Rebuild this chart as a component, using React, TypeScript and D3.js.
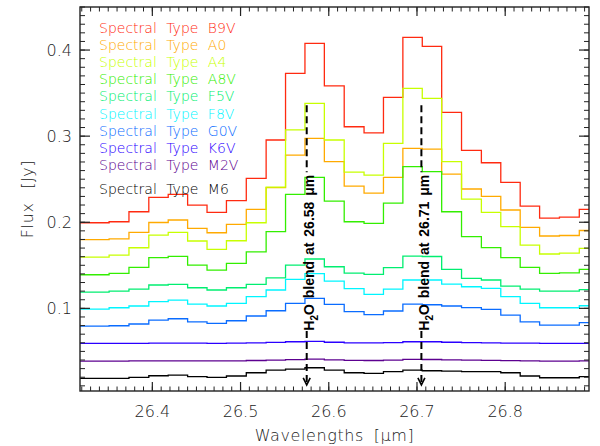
import React from 'react';
import * as d3 from 'd3';

// ---------- data ----------
const wavelengths = [
  26.318, 26.340, 26.362, 26.385, 26.407, 26.429, 26.451, 26.473, 26.495,
  26.518, 26.540, 26.562, 26.584, 26.606, 26.629, 26.651, 26.673, 26.695,
  26.717, 26.739, 26.762, 26.784, 26.806, 26.828, 26.850, 26.873, 26.895,
];

const spectralTypes = ['B9V', 'A0', 'A4', 'A8V', 'F5V', 'F8V', 'G0V', 'K6V', 'M2V', 'M6'];
const seriesColors = ['#ff2a10', '#ffaa00', '#c8ff00', '#33ee00', '#00ee70', '#00f5ff', '#0a6cff', '#2a00ff', '#5c0090', '#000000'];

const fluxB9V = [0.1994, 0.1994, 0.2006, 0.2122, 0.2289, 0.2324, 0.2200, 0.2115, 0.2250, 0.2510, 0.2955, 0.3729, 0.4078, 0.3585, 0.3109, 0.3039, 0.3451, 0.4148, 0.4043, 0.3276, 0.2835, 0.2691, 0.2463, 0.2188, 0.2049, 0.2060, 0.2150];
const fluxA0 = [0.1799, 0.1799, 0.1808, 0.1883, 0.1997, 0.2026, 0.1929, 0.1878, 0.1976, 0.2150, 0.2403, 0.2780, 0.2974, 0.2703, 0.2420, 0.2339, 0.2521, 0.2858, 0.2850, 0.2560, 0.2386, 0.2301, 0.2142, 0.1941, 0.1840, 0.1846, 0.1904];
const fluxA4 = [0.1596, 0.1596, 0.1619, 0.1704, 0.1851, 0.1883, 0.1782, 0.1685, 0.1785, 0.1994, 0.2409, 0.3074, 0.3381, 0.2955, 0.2583, 0.2548, 0.2916, 0.3555, 0.3439, 0.2703, 0.2269, 0.2115, 0.1948, 0.1735, 0.1631, 0.1642, 0.1697];
const fluxA8V = [0.1390, 0.1390, 0.1407, 0.1476, 0.1588, 0.1604, 0.1503, 0.1445, 0.1523, 0.1657, 0.1890, 0.2324, 0.2521, 0.2246, 0.2006, 0.1987, 0.2223, 0.2645, 0.2587, 0.2122, 0.1832, 0.1706, 0.1588, 0.1476, 0.1407, 0.1413, 0.1453];
const fluxF5V = [0.1189, 0.1189, 0.1201, 0.1224, 0.1271, 0.1279, 0.1239, 0.1213, 0.1239, 0.1279, 0.1355, 0.1503, 0.1573, 0.1483, 0.1410, 0.1395, 0.1474, 0.1607, 0.1602, 0.1453, 0.1348, 0.1329, 0.1259, 0.1224, 0.1201, 0.1201, 0.1218];
const fluxF8V = [0.0992, 0.0992, 0.1007, 0.1027, 0.1077, 0.1096, 0.1050, 0.1027, 0.1058, 0.1135, 0.1213, 0.1337, 0.1404, 0.1317, 0.1228, 0.1163, 0.1224, 0.1329, 0.1329, 0.1282, 0.1251, 0.1232, 0.1135, 0.1058, 0.1007, 0.1007, 0.1030];
const fluxG0V = [0.0794, 0.0794, 0.0798, 0.0818, 0.0864, 0.0879, 0.0844, 0.0826, 0.0856, 0.0911, 0.0972, 0.1058, 0.1116, 0.1046, 0.0961, 0.0926, 0.0969, 0.1050, 0.1042, 0.1027, 0.1009, 0.0988, 0.0922, 0.0844, 0.0806, 0.0806, 0.0833];
const fluxK6V = [0.0594, 0.0594, 0.0594, 0.0594, 0.0595, 0.0596, 0.0595, 0.0594, 0.0595, 0.0600, 0.0605, 0.0612, 0.0616, 0.0606, 0.0600, 0.0598, 0.0603, 0.0612, 0.0612, 0.0606, 0.0602, 0.0600, 0.0597, 0.0595, 0.0593, 0.0593, 0.0594];
const fluxM2V = [0.0388, 0.0388, 0.0388, 0.0389, 0.0390, 0.0391, 0.0390, 0.0389, 0.0390, 0.0394, 0.0399, 0.0405, 0.0410, 0.0402, 0.0396, 0.0394, 0.0399, 0.0408, 0.0406, 0.0401, 0.0398, 0.0396, 0.0393, 0.0390, 0.0388, 0.0388, 0.0389];
const fluxM6 = [0.0187, 0.0187, 0.0187, 0.0199, 0.0217, 0.0225, 0.0206, 0.0199, 0.0214, 0.0252, 0.0283, 0.0295, 0.0310, 0.0283, 0.0252, 0.0245, 0.0264, 0.0283, 0.0275, 0.0272, 0.0264, 0.0264, 0.0252, 0.0214, 0.0194, 0.0194, 0.0206];

const fluxSeries = [fluxB9V, fluxA0, fluxA4, fluxA8V, fluxF5V, fluxF8V, fluxG0V, fluxK6V, fluxM2V, fluxM6];

const yDomain = [0.004, 0.45];

// H2O blend annotations
const blendWaves = [26.575, 26.705];
const blendLabels = ['26.58', '26.71'];
const arrowTop = 0.336;
const gapTop = 0.258;
const gapBottom = 0.0736;
const arrowTip = 0.011;

// ---------- layout ----------
const W = 600;
const H = 446;
const L = 80;
const R = 589;
const T = 7;
const B = 391;
const FONT = '"DejaVu Sans", sans-serif';

export default function App() {
  const x = d3.scaleLinear().domain(d3.extent(wavelengths) as [number, number]).range([L, R]);
  const y = d3.scaleLinear().domain(yDomain).range([B, T]);

  const line = d3
    .line<number>()
    .x((_, i) => x(wavelengths[i]))
    .y((d) => y(d))
    .curve(d3.curveStep);

  const xMajor = x.ticks(5);
  const xMinor = x.ticks(60);
  const yMajor = y.ticks(4);
  const yMinor = y.ticks(45);
  const fmt = d3.format('.1f');

  return (
    <svg width={W} height={H} style={{ position: 'absolute', left: 0, top: 0, background: '#fff' }}>
      <rect x={0} y={0} width={W} height={H} fill="#fff" />
      <defs>
        <clipPath id="plotclip">
          <rect x={L} y={T} width={R - L} height={B - T} />
        </clipPath>
      </defs>

      {/* series */}
      <g clipPath="url(#plotclip)">
        {fluxSeries.map((s, k) => (
          <path key={k} d={line(s) || ''} fill="none" stroke={seriesColors[k]} strokeWidth={1.3} />
        ))}
      </g>

      {/* annotations */}
      {blendWaves.map((w, k) => {
        const xx = x(w);
        return (
          <g key={k}>
            <line x1={xx} x2={xx} y1={y(arrowTop)} y2={y(gapTop)} stroke="#000" strokeWidth={2} strokeDasharray="7 4" />
            <line x1={xx} x2={xx} y1={y(gapBottom)} y2={y(arrowTip) - 2} stroke="#000" strokeWidth={2} strokeDasharray="7 4" />
            <path
              d={`M${xx - 3.5},${y(arrowTip) - 7} L${xx},${y(arrowTip)} L${xx + 3.5},${y(arrowTip) - 7}`}
              fill="none"
              stroke="#000"
              strokeWidth={1.6}
            />
            <text
              transform={`translate(${xx + 7.5},${(y(gapTop) + y(gapBottom)) / 2 + 1}) rotate(-90)`}
              textAnchor="middle"
              fontFamily='"Liberation Sans", Arial, sans-serif'
              fontWeight="bold"
              fontSize={14}
              wordSpacing={2}
              fill="#000"
            >
              H<tspan fontSize={10} dy={4}>2</tspan>
              <tspan dy={-4}>O blend at {blendLabels[k]} μm</tspan>
            </text>
          </g>
        );
      })}

      {/* frame */}
      <rect x={L} y={T} width={R - L} height={B - T} fill="none" stroke="#222" strokeWidth={1.4} />

      {/* x ticks */}
      {xMinor.map((t, i) => (
        <g key={'xm' + i} stroke="#222" strokeWidth={1}>
          <line x1={x(t)} x2={x(t)} y1={B} y2={B - 4.5} />
          <line x1={x(t)} x2={x(t)} y1={T} y2={T + 4.5} />
        </g>
      ))}
      {xMajor.map((t, i) => (
        <g key={'xM' + i}>
          <line x1={x(t)} x2={x(t)} y1={B} y2={B - 9} stroke="#222" strokeWidth={1.2} />
          <line x1={x(t)} x2={x(t)} y1={T} y2={T + 9} stroke="#222" strokeWidth={1.2} />
          <text x={x(t)} y={417} textAnchor="middle" fontFamily={FONT} fontWeight={300} fontSize={16} fill="#222">
            {fmt(t)}
          </text>
        </g>
      ))}

      {/* y ticks */}
      {yMinor.map((t, i) => (
        <g key={'ym' + i} stroke="#222" strokeWidth={1}>
          <line x1={L} x2={L + 5} y1={y(t)} y2={y(t)} />
          <line x1={R} x2={R - 5} y1={y(t)} y2={y(t)} />
        </g>
      ))}
      {yMajor.map((t, i) => (
        <g key={'yM' + i}>
          <line x1={L} x2={L + 10} y1={y(t)} y2={y(t)} stroke="#222" strokeWidth={1.2} />
          <line x1={R} x2={R - 10} y1={y(t)} y2={y(t)} stroke="#222" strokeWidth={1.2} />
          <text x={72} y={y(t) + 6} textAnchor="end" fontFamily={FONT} fontWeight={300} fontSize={16} fill="#222">
            {fmt(t)}
          </text>
        </g>
      ))}

      {/* axis titles */}
      <text x={(L + R) / 2} y={441} textAnchor="middle" fontFamily={FONT} fontWeight={300} fontSize={16} wordSpacing={4} letterSpacing={0.6} fill="#222">
        Wavelengths [μm]
      </text>
      <text
        transform={`translate(33,${(T + B) / 2}) rotate(-90)`}
        textAnchor="middle"
        fontFamily={FONT}
        fontWeight={300}
        fontSize={16}
        wordSpacing={8}
        letterSpacing={0.6}
        fill="#222"
      >
        Flux [Jy]
      </text>

      {/* legend */}
      {spectralTypes.map((st, k) => (
        <text
          key={'lg' + k}
          x={99}
          y={32.5 + k * 17.2 + (k === spectralTypes.length - 1 ? 6.5 : 0)}
          fontFamily={FONT}
          fontWeight={300}
          fontSize={14}
          wordSpacing={5}
          fill={seriesColors[k]}
        >
          Spectral Type {st}
        </text>
      ))}
    </svg>
  );
}
